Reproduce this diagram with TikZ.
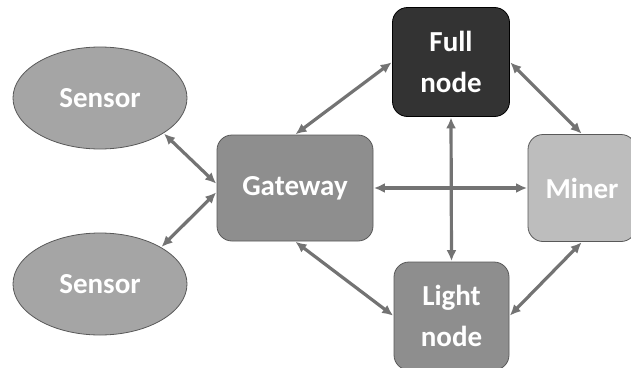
\documentclass[tikz,border=0pt]{standalone}
\usepackage{fontspec}
\setmainfont{Carlito}
\usetikzlibrary{arrows.meta,shapes.geometric}
\definecolor{edgegray}{HTML}{737373}
\definecolor{sensorfill}{HTML}{A5A5A5}
\definecolor{gwfill}{HTML}{8E8E8E}
\definecolor{fullfill}{HTML}{333333}
\definecolor{minerfill}{HTML}{BDBDBD}
\definecolor{lightfill}{HTML}{8E8E8E}
\tikzset{
  lbl/.style={text=white, font=\fontsize{29}{41}\selectfont\bfseries, align=center, inner sep=0pt},
  sensorbox/.style={lbl, ellipse, draw=gray!70!black, line width=0.8pt, fill=sensorfill,
    minimum width=174pt, minimum height=102pt},
  rbox/.style={lbl, rectangle, rounded corners=15pt, draw=gray!70!black, line width=0.8pt},
  link/.style={draw=edgegray, line width=3.2pt,
    {Latex[length=11pt,width=10pt]}-{Latex[length=11pt,width=10pt]}, shorten <=0.5pt, shorten >=0.5pt}
}
\begin{document}
\begin{tikzpicture}[x=1pt,y=-1pt]
  \useasboundingbox (0,0) rectangle (631,367);
  \fill[white] (0,0) rectangle (631,367);

  % devices
  \node[sensorbox] (s1) at (100,98) {Sensor};
  \node[sensorbox] (s2) at (100,284) {Sensor};
  \node[rbox, fill=gwfill, minimum width=156pt, minimum height=106pt] (gw) at (295,188) {Gateway};
  \node[rbox, fill=fullfill, draw=black, minimum width=117pt, minimum height=109pt] (full) at (451,62) {Full\\node};
  \node[rbox, fill=minerfill, minimum width=108pt, minimum height=107pt] (miner) at (582,188) {Miner};
  \node[rbox, fill=lightfill, minimum width=115pt, minimum height=108pt] (light) at (451.5,316) {Light\\node};

  % links
  \draw[link] (s1.-29) -- ([yshift=4pt]gw.west);
  \draw[link] (s2.31) -- ([yshift=-4pt]gw.west);
  \draw[link] (gw.north) -- (full.west);
  \draw[link] (full.east) -- (miner.north);
  \draw[link] (gw.east) -- (miner.west);
  \draw[link] (full.south) -- (light.north);
  \draw[link] (gw.south) -- (light.west);
  \draw[link] (miner.south) -- (light.east);
\end{tikzpicture}
\end{document}
